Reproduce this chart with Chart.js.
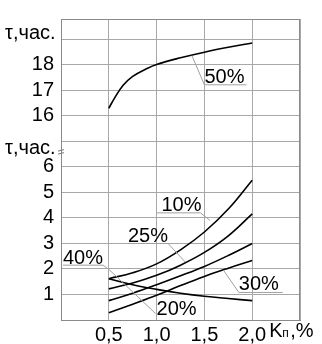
<!DOCTYPE html>
<html>
<head>
<meta charset="utf-8">
<script src="https://cdn.jsdelivr.net/npm/chart.js@4"></script>
<style>body{margin:0;background:#fff}</style>
</head>
<body>
<canvas id="myChart" width="322" height="344"></canvas>
<script>
// x axis: Kп, %
const xTicks = [0.5, 1.0, 1.5, 2.0];
// y axis is broken: lower part 1..6, upper part 16..18
const lowerTicks = [1, 2, 3, 4, 5, 6];
const upperTicks = [16, 17, 18];
const upperShift = 8; // value 16 drawn on grid line 8

// lower curves
const kx = [0.5, 0.75, 1.0, 1.25, 1.5, 1.75, 2.0];
const t10 = [1.62, 1.85, 2.2, 2.75, 3.45, 4.35, 5.48];
const t25 = [1.22, 1.45, 1.75, 2.15, 2.65, 3.3, 4.16];
const t20 = [0.76, 1.05, 1.38, 1.73, 2.1, 2.53, 3.0];
const t30 = [0.28, 0.62, 0.97, 1.35, 1.71, 2.03, 2.33];
const t40 = [1.62, 1.38, 1.2, 1.05, 0.93, 0.84, 0.76];
// upper curve
const kx50 = [0.5, 0.56, 0.65, 0.75, 0.9, 1.0, 1.25, 1.5, 1.75, 2.0];
const t50 = [16.3, 16.7, 17.2, 17.55, 17.86, 18.02, 18.28, 18.5, 18.69, 18.86];

const font = "'Liberation Sans', Arial, sans-serif";
Chart.defaults.font.family = font;
Chart.defaults.color = '#000';

function pts(xs, ys, shift) {
    return xs.map((x, i) => ({x: x, y: ys[i] - shift}));
}
function curve(label, data) {
    return {label: label, data: data, borderColor: '#000', borderWidth: 1.6,
        pointRadius: 0, fill: false, tension: 0.4};
}

// curve labels with their leader lines, in data units
const notes = [
    {t: '50%', at: [1.5, 9.3], line: [[1.37, 10.36], [1.5, 9.22], [1.94, 9.22]]},
    {t: '10%', at: [1.05, 4.27], line: [[1.0, 4.2], [1.46, 4.2], [1.56, 3.9]]},
    {t: '25%', at: [0.70, 3.06], line: [[0.70, 3.0], [1.12, 3.0], [1.30, 2.27]]},
    {t: '30%', at: [1.86, 1.17], line: [[1.70, 1.95], [1.86, 1.08], [2.32, 1.08]]},
    {t: '40%', at: [0.02, 2.19], line: [[0.02, 2.15], [0.44, 2.15], [0.51, 1.95], [0.99, 0.25]]},
    {t: '20%', at: [1.0, 0.19], line: []}
];

const extras = {
    id: 'extras',
    afterDraw(chart) {
        const c = chart.ctx, a = chart.chartArea;
        const xs = chart.scales.x, ys = chart.scales.y;
        c.save();
        c.strokeStyle = '#8a8a8a';
        c.lineWidth = 1;
        c.strokeRect(a.left + 0.5, a.top + 0.5, a.right - a.left - 1, a.bottom - a.top);

        c.strokeStyle = '#a0a0a0';
        notes.forEach(n => {
            if (n.line.length) {
                c.beginPath();
                n.line.forEach((p, i) => {
                    const px = xs.getPixelForValue(p[0]), py = ys.getPixelForValue(p[1]);
                    if (i == 0) c.moveTo(px, py); else c.lineTo(px, py);
                });
                c.stroke();
            }
        });
        c.fillStyle = '#000';
        c.font = '20px ' + font;
        c.textBaseline = 'alphabetic';
        c.textAlign = 'left';
        notes.forEach(n => {
            c.fillText(n.t, xs.getPixelForValue(n.at[0]), ys.getPixelForValue(n.at[1]));
        });

        // axis titles
        c.fillText('τ,час.', 5, ys.getPixelForValue(11.0));
        c.fillText('τ,час.', 5, ys.getPixelForValue(6.52));
        const bx = xs.getPixelForValue(2.0) + 17, by = a.bottom + 17;
        c.fillText('K', bx, by);
        c.font = '12px ' + font;
        c.fillText('п', bx + 13, by);
        c.font = '20px ' + font;
        c.fillText(',%', bx + 21, by);

        // break mark on the y axis
        const my = ys.getPixelForValue(6.62);
        c.strokeStyle = '#777';
        c.beginPath();
        c.moveTo(a.left - 3, my); c.lineTo(a.left + 3, my - 1.5);
        c.moveTo(a.left - 3, my + 3); c.lineTo(a.left + 3, my + 1.5);
        c.stroke();
        c.restore();
    }
};

const ctx = document.getElementById('myChart');
new Chart(ctx, {
    type: 'line',
    data: {
        datasets: [
            curve('50%', pts(kx50, t50, upperShift)),
            curve('10%', pts(kx, t10, 0)),
            curve('25%', pts(kx, t25, 0)),
            curve('20%', pts(kx, t20, 0)),
            curve('30%', pts(kx, t30, 0)),
            curve('40%', pts(kx, t40, 0))
        ]
    },
    options: {
        responsive: false,
        animation: false,
        layout: {padding: {top: 8, right: 22, left: 0, bottom: 0}},
        plugins: {legend: {display: false}, tooltip: {enabled: false}},
        scales: {
            x: {
                type: 'linear', min: 0, max: 2.5,
                afterFit: s => { s.height = 24; },
                grid: {color: '#a8a8a8', drawTicks: false},
                border: {color: '#8a8a8a'},
                ticks: {
                    stepSize: 0.5, padding: 3, maxRotation: 0, autoSkip: false,
                    font: {size: 20},
                    callback: v => xTicks.includes(v) ? v.toFixed(1).replace('.', ',') : ''
                }
            },
            y: {
                min: 0, max: 11.8,
                afterFit: s => { s.width = 61; },
                grid: {color: '#a8a8a8', drawTicks: false},
                border: {color: '#8a8a8a'},
                ticks: {
                    stepSize: 1, padding: 7, includeBounds: false, autoSkip: false,
                    font: {size: 20},
                    callback: v => lowerTicks.includes(v) ? String(v)
                        : upperTicks.includes(v + upperShift) ? String(v + upperShift) : ''
                }
            }
        }
    },
    plugins: [extras]
});
</script>
</body>
</html>
